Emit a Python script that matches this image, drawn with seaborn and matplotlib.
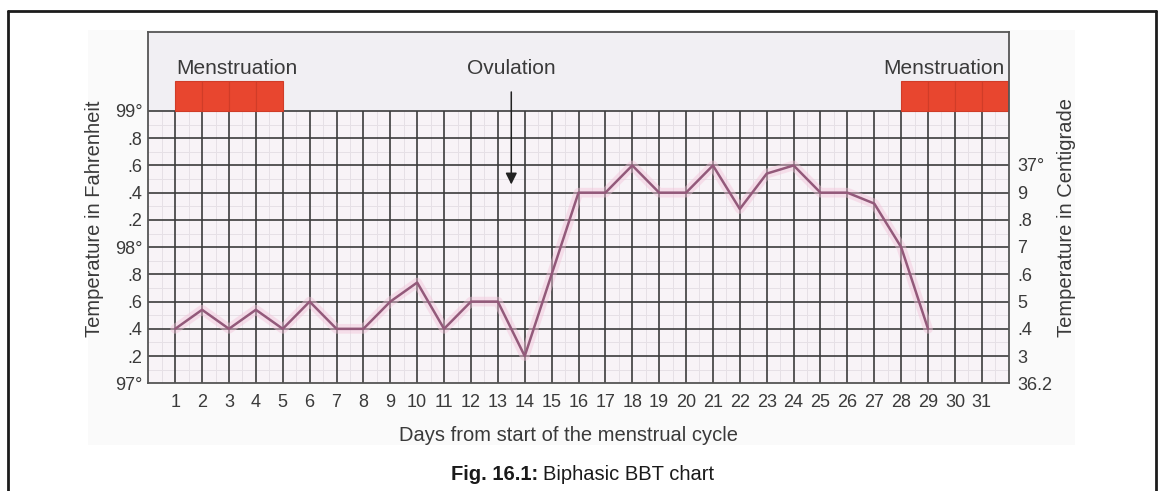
import matplotlib
matplotlib.use("Agg")
import matplotlib.pyplot as plt
from matplotlib.lines import Line2D
from matplotlib.patches import Rectangle
import numpy as np
import pandas as pd
import seaborn as sns

# Basal body temperature readings (°F) for each day of the cycle
days = list(range(1, 30))
temp_f = [97.4, 97.54, 97.4, 97.54, 97.4, 97.6, 97.4, 97.4, 97.6, 97.74,
          97.4, 97.6, 97.6, 97.2, 97.8, 98.4, 98.4, 98.6, 98.4, 98.4,
          98.6, 98.28, 98.54, 98.6, 98.4, 98.4, 98.32, 98.0, 97.4]

day_ticks = list(range(1, 32))
f_ticks = [97.0, 97.2, 97.4, 97.6, 97.8, 98.0, 98.2, 98.4, 98.6, 98.8, 99.0]
f_labels = ["97°", ".2", ".4", ".6", ".8", "98°", ".2", ".4", ".6", ".8", "99°"]
c_ticks = [36.2, 36.3, 36.4, 36.5, 36.6, 36.7, 36.8, 36.9, 37.0]
c_labels = ["36.2", "3", ".4", "5", ".6", "7", ".8", "9", "37°"]

menses_early = [1, 2, 3, 4]
menses_late = [28, 29, 30, 31]
ovulation_day = 13.5

sns.set_theme(style="white")
plt.rcParams["font.family"] = ["Liberation Sans", "DejaVu Sans"]

TXT = "#3a3a3a"
GRID = "#3c3c3c"

fig = plt.figure(figsize=(11.58, 4.91), dpi=100)
fig.patch.set_facecolor("white")

# soft backdrop behind the chart
fig.add_artist(Rectangle((88 / 1158, 1 - 445 / 491), (1075 - 88) / 1158, (445 - 30) / 491,
                         transform=fig.transFigure, facecolor="#fafafa", edgecolor="none", zorder=-5))

ax = fig.add_axes([148.3 / 1158, 1 - 383.3 / 491, 860.4 / 1158, 351.3 / 491])
ax.set_xlim(0, 32)
ax.set_ylim(97.0, 99.58)
ax.set_facecolor("#f1eff3")
ax.axhspan(97.0, 99.0, color="#f8f3f7", zorder=0, lw=0)

# graph-paper grid: faint half steps, dark whole steps
half_days = [d + 0.5 for d in range(0, 32)]
half_f = [t + 0.1 for t in f_ticks[:-1]]
ax.vlines(half_days, 97.0, 99.0, color="#e6e0e6", lw=0.7, zorder=1)
ax.hlines(half_f, 0, 32, color="#e6e0e6", lw=0.7, zorder=1)
ax.vlines(day_ticks, 97.0, 99.0, color=GRID, lw=1.2, zorder=2)
ax.hlines(f_ticks[1:], 0, 32, color=GRID, lw=1.2, zorder=2)

# menstruation blocks
ax.bar(menses_early, 0.22, bottom=99.0, width=1.0, align="edge",
       color="#e8462f", edgecolor="#d03c28", lw=0.8, zorder=2)
ax.bar(menses_late, 0.22, bottom=99.0, width=1.0, align="edge",
       color="#e8462f", edgecolor="#d03c28", lw=0.8, zorder=2)

# temperature curve with a soft pink halo
df = pd.DataFrame({"day": days, "temp": temp_f})
sns.lineplot(data=df, x="day", y="temp", ax=ax, color="#f3c4da", lw=7, alpha=0.45, zorder=3)
sns.lineplot(data=df, x="day", y="temp", ax=ax, color="#93597a", lw=1.8, zorder=4)

ax.text(1.05, 99.31, "Menstruation", ha="left", va="center", fontsize=15, color=TXT)
ax.text(31.86, 99.31, "Menstruation", ha="right", va="center", fontsize=15, color=TXT)
ax.text(ovulation_day, 99.31, "Ovulation", ha="center", va="center", fontsize=15, color=TXT)
ax.annotate("", xy=(ovulation_day, 98.44), xytext=(ovulation_day, 99.16),
            arrowprops=dict(arrowstyle="-|>", color="#222222", lw=1.1, mutation_scale=17),
            zorder=5)

ax.set_xticks(day_ticks)
ax.set_xticklabels([str(d) for d in day_ticks])
ax.set_yticks(f_ticks)
ax.set_yticklabels(f_labels)
ax.tick_params(axis="x", length=0, pad=8, labelsize=13, labelcolor=TXT)
ax.tick_params(axis="y", length=0, pad=4, labelsize=13, labelcolor=TXT)
ax.grid(False)
for s in ax.spines.values():
    s.set_color("#555555")
    s.set_linewidth(1.3)

ax.set_xlabel("Days from start of the menstrual cycle", fontsize=14.5, color=TXT)
ax.xaxis.set_label_coords(0.4878, -0.150)
ax.xaxis.label.set_va("center")
ax.set_ylabel("Temperature in Fahrenheit", fontsize=14.5, color=TXT)
ax.yaxis.set_label_coords(-0.0631, 0.4677)
ax.yaxis.label.set_va("center")

# Centigrade scale on the right
ax2 = ax.twinx()
ax2.set_ylim(36.2, 36.2 + 351.3 / 273.0)
ax2.set_yticks(c_ticks)
ax2.set_yticklabels(c_labels)
ax2.tick_params(axis="y", length=0, pad=6, labelsize=13, labelcolor=TXT)
ax2.grid(False)
for s in ax2.spines.values():
    s.set_visible(False)
ax2.set_ylabel("Temperature in Centigrade", fontsize=14.5, color=TXT, rotation=90)
ax2.yaxis.set_label_coords(1.0677, 0.472)
ax2.yaxis.label.set_va("center")

# caption
cap_y = 1 - 474.5 / 491
fig.text(538 / 1158, cap_y, "Fig. 16.1:", ha="right", va="center", fontsize=14.5,
         fontweight="bold", color="#1a1a1a")
fig.text(543 / 1158, cap_y, "Biphasic BBT chart", ha="left", va="center", fontsize=14.5,
         color="#1a1a1a")

# page frame
for xs, ys in [([8 / 1158, 8 / 1158], [0, 1 - 11 / 491]),
               ([8 / 1158, 1156 / 1158], [1 - 11 / 491, 1 - 11 / 491]),
               ([1156 / 1158, 1156 / 1158], [1 - 11 / 491, 0])]:
    fig.add_artist(Line2D(xs, ys, transform=fig.transFigure, color="#1c1c1c", lw=2.0))

fig.savefig("out.png", dpi=100)
